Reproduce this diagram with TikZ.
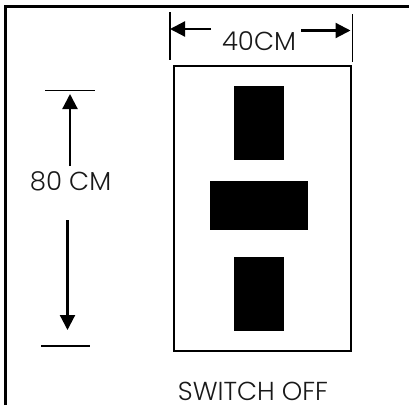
\documentclass[tikz,border=0pt]{standalone}
\usepackage{fontspec}
\setmainfont{Poppins Light}
\usetikzlibrary{arrows.meta}
\newcommand{\block}[5]{\node[blockbox,minimum width=#3pt,minimum height=#4pt] (#5) at ( #1 , #2 ) {};}
\newcommand{\lablnode}[4]{\node[labl] (#4) at ( #1 , #2 ) {#3};}
\tikzset{
    blockbox/.style={shape=rectangle,draw=none,fill=black,inner sep=0pt},
    labl/.style={shape=rectangle,draw=none,fill=none,inner sep=0pt,font=\fontsize{26}{30}\selectfont,text=black!90},
    dimline/.style={line width=2.2pt,-{Triangle[length=15pt,width=15pt]}},
    tickline/.style={line width=1.7pt}
}
\begin{document}
\begin{tikzpicture}[x=1pt,y=-1pt]
        \useasboundingbox (0,0) rectangle (409,410);
        % frame
        \draw[line width=2.2pt] (5.5,405) -- (5.5,6.5) -- (409,6.5);
        % plate
        \node[shape=rectangle,draw,line width=2pt,fill=white,inner sep=0pt,minimum width=177pt,minimum height=285pt] (plate) at (262.5,208) {};
        % blocks
        \block{258.5}{123}{50}{74}{upper}
        \block{258.5}{205.5}{98}{49.5}{middle}
        \block{258.5}{293.5}{50}{74}{lower}
        % labels
        \lablnode{259}{41.5}{40CM}{width}
        \lablnode{70.5}{181}{80 CM}{height}
        \lablnode{253}{391}{SWITCH OFF}{caption}
        % ticks for width
        \coordinate (wla) at (170,12);
        \coordinate (wlb) at (170,60);
        \coordinate (wra) at (352.5,14);
        \coordinate (wrb) at (352.5,62);
        \draw[tickline] (wla) -- (wlb);
        \draw[tickline] (wra) -- (wrb);
        % ticks for height
        \coordinate (hta) at (45,90.5);
        \coordinate (htb) at (95,90.5);
        \coordinate (hba) at (41,346);
        \coordinate (hbb) at (90,346);
        \draw[tickline] (hta) -- (htb);
        \draw[tickline] (hba) -- (hbb);
        % arrows
        \coordinate (wltip) at (170,29);
        \coordinate (wlend) at (211,29);
        \coordinate (wrtip) at (350.5,30.5);
        \coordinate (wrend) at (301,30.5);
        \coordinate (httip) at (70,94);
        \coordinate (htend) at (70,166);
        \coordinate (hbtip) at (67.5,330);
        \coordinate (hbend) at (67.5,220);
        \draw[dimline] (wlend) -- (wltip);
        \draw[dimline] (wrend) -- (wrtip);
        \draw[dimline] (htend) -- (httip);
        \draw[dimline] (hbend) -- (hbtip);
\end{tikzpicture}
\end{document}
